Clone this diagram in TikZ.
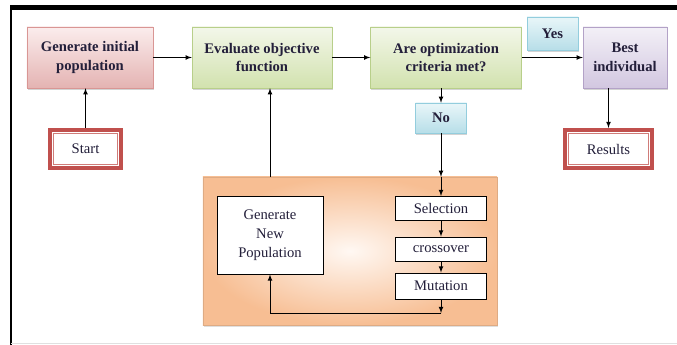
\documentclass[tikz,border=0pt]{standalone}
\usepackage{fontspec}
\setmainfont{Liberation Serif}
\usetikzlibrary{shadows}

\definecolor{redline}{HTML}{C0504D}
\definecolor{redtop}{HTML}{FBEDED}
\definecolor{redbot}{HTML}{E4B3B2}
\definecolor{redborder}{HTML}{D99694}
\definecolor{greentop}{HTML}{F3F7EA}
\definecolor{greenbot}{HTML}{D2E2AE}
\definecolor{greenborder}{HTML}{B8CF8A}
\definecolor{purpletop}{HTML}{F3F0F7}
\definecolor{purplebot}{HTML}{D2C7E0}
\definecolor{purpleborder}{HTML}{B3A2C7}
\definecolor{bluetop}{HTML}{E9F6F9}
\definecolor{bluebot}{HTML}{B7DEE8}
\definecolor{blueborder}{HTML}{93CDDD}
\definecolor{orangeout}{HTML}{F7BE93}
\definecolor{orangein}{HTML}{FFF8F3}
\definecolor{textc}{HTML}{231F3A}

\newcommand{\boxfont}{\fontsize{12.5}{16}\selectfont}

\tikzstyle{b} = [align=center, rectangle, draw, text centered, text=textc, font=\bfseries\boxfont, minimum height=1.83cm, drop shadow={opacity=0.35, shadow xshift=0.6pt, shadow yshift=-2pt}]
\tikzstyle{redfill} = [draw=redborder, top color=redtop, bottom color=redbot]
\tikzstyle{greenfill} = [draw=greenborder, top color=greentop, bottom color=greenbot]
\tikzstyle{purplefill} = [draw=purpleborder, top color=purpletop, bottom color=purplebot]
\tikzstyle{tag} = [rectangle, draw=blueborder, top color=bluetop, bottom color=bluebot, text=textc, font=\bfseries\boxfont, minimum width=1.53cm, drop shadow={opacity=0.35, shadow xshift=0.6pt, shadow yshift=-1.5pt}]
\tikzstyle{term} = [rectangle, draw=redline, line width=3.4pt, fill=white, text=textc, font=\boxfont, minimum height=1.14cm]
\tikzstyle{op} = [rectangle, draw, thick, fill=white, text=textc, font=\boxfont, minimum width=2.73cm, minimum height=0.72cm]

\begin{document}
\begin{tikzpicture}[auto, x=0.03cm, y=-0.03cm, >=latex]
\useasboundingbox (0,0) rectangle (677,345);
% frame
\draw [line width=4.3pt] (10,7.5) -- (677,7.5);
\draw [line width=1.6pt] (11,7.5) -- (11,345);
\draw [black!12, line width=0.8pt] (11,343) -- (677,343);

\node [b, redfill, minimum width=3.78cm] (a) at (90,57.5) {Generate initial\\population};
\node [b, greenfill, minimum width=4.2cm, right of=a, node distance=5.16cm] (b) {Evaluate objective\\function};
\node [b, greenfill, minimum width=4.53cm, right of=b, node distance=5.52cm] (c) {Are optimization\\criteria met?};
\node [b, purplefill, minimum width=2.52cm, right of=c, node distance=5.37cm] (d) {Best\\individual};

\node [tag, minimum height=0.99cm] (yes) at (552.5,33.5) {Yes};
\node [tag, minimum height=0.9cm] (no) at (441,118) {No};

\node [term, minimum width=2.13cm] (s) at (85.5,149) {Start};
\node [term, minimum width=2.61cm] (r) at (608.5,149) {Results};
\foreach \n in {s,r}
  \draw [redline!75, line width=0.8pt] ([shift={(4.3pt,4.3pt)}]\n.south west) rectangle ([shift={(-4.3pt,-4.3pt)}]\n.north east);

\node [rectangle, draw=orangeout!90!black, inner color=orangein, outer color=orangeout, minimum width=8.82cm, minimum height=4.44cm, drop shadow={opacity=0.25, shadow xshift=0.8pt, shadow yshift=-1.5pt}] (cont) at (350,251) {};
\node [rectangle, draw, thick, fill=white, text=textc, font=\boxfont, align=center, minimum width=3.18cm, minimum height=2.34cm] (gnp) at (270,235) {Generate\\New\\Population};
\node [op] (sel) at (441,208.5) {Selection};
\node [op] (cro) at (441,249) {crossover};
\node [op, minimum height=0.78cm] (mut) at (441,286) {Mutation};
\coordinate (lp) at (441,313);

\draw [->, thick] (a) -- (b);
\draw [->, thick] (b) -- (c);
\draw [->, thick] (c) -- (d);
\draw [->, thick] (s.north) -- (s.north |- a.south);
\draw [->, thick] (r.north |- d.south) -- (r.north);
\draw [->, thick] (no.north |- c.south) -- (no.north);
\draw [->, thick] (no.south) -- (no |- cont.north);
\draw [->, thick] (no |- cont.north) -- (sel);
\draw [->, thick] (sel) -- (cro);
\draw [->, thick] (cro) -- (mut);
\draw [->, thick] (mut) -- (lp);
\draw [->, thick] (lp) -| (gnp);
\draw [->, thick] (gnp.north |- cont.north) -- (gnp.north |- b.south);
\end{tikzpicture}
\end{document}
